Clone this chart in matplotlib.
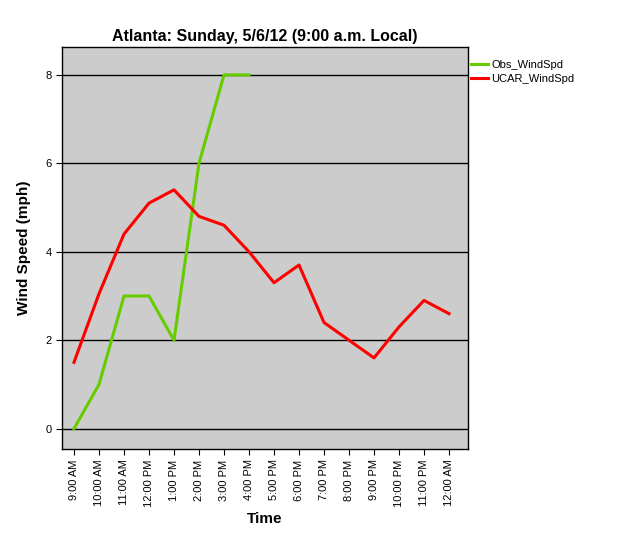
import matplotlib
matplotlib.use("Agg")
import matplotlib.pyplot as plt

plt.rcParams['font.family'] = ['Liberation Sans', 'DejaVu Sans']

# Data
times = ['9:00 AM', '10:00 AM', '11:00 AM', '12:00 PM', '1:00 PM', '2:00 PM',
         '3:00 PM', '4:00 PM', '5:00 PM', '6:00 PM', '7:00 PM', '8:00 PM',
         '9:00 PM', '10:00 PM', '11:00 PM', '12:00 AM']
obs_wind = [0, 1, 3, 3, 2, 6, 8, 8]
ucar_wind = [1.5, 3.05, 4.4, 5.1, 5.4, 4.8, 4.6, 4.0, 3.3, 3.7, 2.4, 2.0,
             1.6, 2.3, 2.9, 2.6]
yticks = [0, 2, 4, 6, 8]

fig = plt.figure(figsize=(6.25, 5.4), dpi=100)
ax = fig.add_axes([62/625, 1 - 449/540, (468 - 62)/625, (449 - 47)/540])
ax.set_facecolor('#cccccc')

for y in yticks:
    ax.axhline(y, color='black', lw=1.0, zorder=1)

x = list(range(len(times)))
ax.plot(x[:len(obs_wind)], obs_wind, color='#66cc00', lw=2.2, label='Obs_WindSpd', zorder=3)
ax.plot(x, ucar_wind, color='#ff0000', lw=2.2, label='UCAR_WindSpd', zorder=3)

ax.set_xlim(-0.48, 15.76)
ax.set_ylim(-0.46, 8.63)
ax.set_xticks(x)
ax.set_xticklabels(times, rotation=90, fontsize=8)
ax.set_yticks(yticks)
ax.set_yticklabels([str(v) for v in yticks], fontsize=8)
ax.tick_params(length=4, width=0.8, color='black')

for s in ax.spines.values():
    s.set_color('black')
    s.set_linewidth(1.0)

ax.set_title('Atlanta: Sunday, 5/6/12 (9:00 a.m. Local)', fontsize=11.5,
             fontweight='bold', pad=4)
ax.set_xlabel('Time', fontsize=11, fontweight='bold', labelpad=4)
ax.set_ylabel('Wind Speed (mph)', fontsize=11, fontweight='bold', labelpad=10)

ax.legend(loc='upper left', bbox_to_anchor=(1.0, 0.975), frameon=False,
          fontsize=8, handlelength=1.5, handletextpad=0.3, labelspacing=0.35,
          borderaxespad=0.2, borderpad=0.1)

fig.savefig('out.png', dpi=100)
